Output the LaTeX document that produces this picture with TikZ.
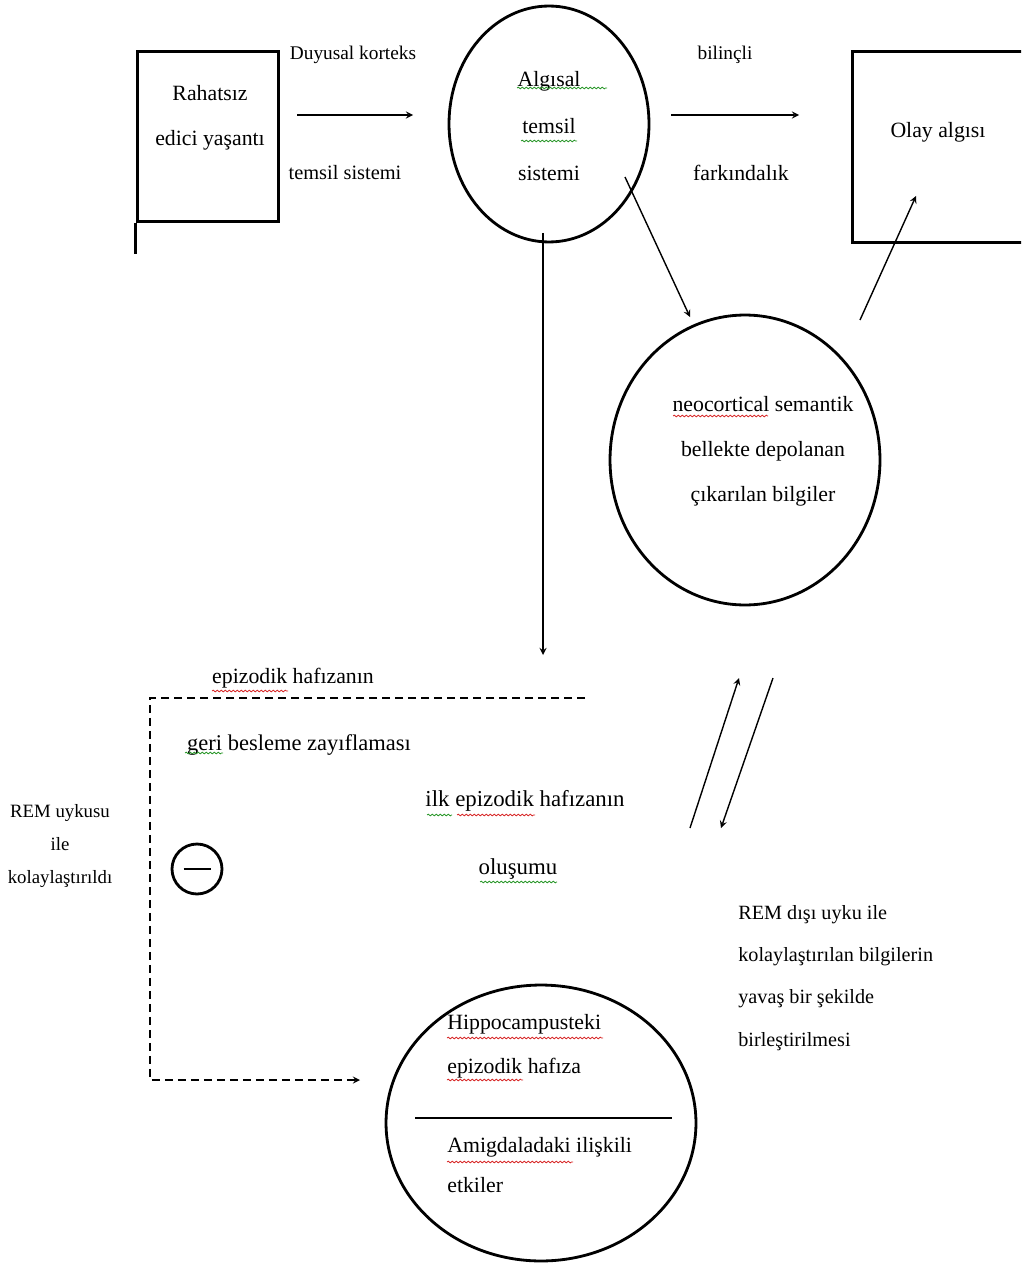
\documentclass[tikz,border=0pt]{standalone}
\usepackage{fontspec}
\setmainfont{Liberation Serif}
\usetikzlibrary{shapes.geometric,decorations.pathmorphing}
\definecolor{spellred}{RGB}{215,40,40}
\definecolor{spellgreen}{RGB}{40,150,40}
\tikzset{
  box/.style={draw, line width=1.7pt, inner sep=0},
  oval/.style={draw, ellipse, line width=1.6pt, inner sep=0},
  txt/.style={inner sep=0, align=center, font=\fontsize{12.4}{25.6}\selectfont},
  lbl/.style={inner sep=0, align=center, font=\fontsize{11}{20}\selectfont},
  arr/.style={-stealth, line width=0.8pt},
  fb/.style={-stealth, line width=0.8pt, dash pattern=on 0.16cm off 0.1cm},
  sq/.style={line width=0.45pt, decorate, decoration={snake, segment length=0.08cm, amplitude=0.5pt}}
}
\begin{document}
\begin{tikzpicture}[x=0.02cm, y=-0.02cm]
\useasboundingbox (0,0) rectangle (1021,1284);
\clip (0,0) rectangle (1021,1284);
% kutular
\node[box, minimum width=2.84cm, minimum height=3.42cm] (rahat) at (208,136.5) {};
\node[txt] (rahattxt) at (210,118) {Rahatsız\\edici yaşantı};
\draw[line width=1.2pt] (rahat.south west) -- ++(0,31);
\node[box, minimum width=3.6cm, minimum height=3.84cm] (olay) at (942,147) {};
\node[txt] (olaytxt) at (938,132) {Olay algısı};
% daireler
\node[oval, minimum width=4cm, minimum height=4.72cm] (alg) at (549,124) {};
\node[txt, font=\fontsize{12.4}{26.5}\selectfont] (algtxt) at (549,126) {Algısal\\temsil\\sistemi};
\node[oval, minimum width=5.4cm, minimum height=5.8cm] (neo) at (745,460) {};
\node[txt] (neotxt) at (763,451) {neocortical semantik\\bellekte depolanan\\çıkarılan bilgiler};
\node[oval, minimum width=6.2cm, minimum height=5.52cm] (hippo) at (541,1123) {};
\draw[line width=0.8pt] (415,1118) -- (672,1118);
\node[txt, align=left, anchor=west, font=\fontsize{12.4}{25}\selectfont] (hiptxt) at (447,1046) {Hippocampusteki\\epizodik hafıza};
\node[txt, align=left, anchor=west, font=\fontsize{12.4}{22.8}\selectfont] (amitxt) at (447,1165) {Amigdaladaki ilişkili\\etkiler};
\node[draw, circle, line width=1.6pt, minimum size=1cm, inner sep=0] (neg) at (197,869) {};
\draw[line width=1pt] ([xshift=-0.27cm]neg.center) -- ([xshift=0.27cm]neg.center);
% etiketler
\node[lbl] (duy) at (353,55) {Duyusal korteks};
\node[lbl, font=\fontsize{11.6}{20}\selectfont] (tem) at (345,173) {temsil sistemi};
\node[lbl] (bil) at (725,55) {bilinçli};
\node[txt] (far) at (741,173) {farkındalık};
\node[txt] (epi) at (293,678) {epizodik hafızanın};
\node[txt, font=\fontsize{12.8}{20}\selectfont] (geri) at (299,745) {geri besleme zayıflaması};
\node[lbl, font=\fontsize{10.7}{19}\selectfont] (remu) at (60,846) {REM uykusu\\ile\\kolaylaştırıldı};
\node[txt, font=\fontsize{13}{20}\selectfont] (ilk) at (525,801) {ilk epizodik hafızanın};
\node[txt, font=\fontsize{13}{20}\selectfont] (olus) at (518,869) {oluşumu};
\node[lbl, align=left, anchor=west, font=\fontsize{11.5}{24}\selectfont] (remd) at (738,978) {REM dışı uyku ile\\kolaylaştırılan bilgilerin\\yavaş bir şekilde\\birleştirilmesi};
% yazim denetimi cizgileri
\draw[sq, spellgreen] (517,88) -- (607,88);
\draw[sq, spellgreen] (521,141) -- (577,141);
\draw[sq, spellred] (673,416) -- (768,416);
\draw[sq, spellred] (212,691) -- (288,691);
\draw[sq, spellgreen] (185,753) -- (223,753);
\draw[sq, spellgreen] (427,815) -- (452,815);
\draw[sq, spellred] (457,815) -- (535,815);
\draw[sq, spellgreen] (480,882) -- (557,882);
\draw[sq, spellred] (447,1038) -- (603,1038);
\draw[sq, spellred] (447,1080) -- (523,1080);
\draw[sq, spellred] (447,1162) -- (573,1162);
% oklar
\coordinate (a1) at (297,115); \coordinate (a2) at (413,115);
\coordinate (b1) at (671,115); \coordinate (b2) at (799,115);
\coordinate (c1) at (543,233); \coordinate (c2) at (543,655);
\coordinate (d1) at (625,177); \coordinate (d2) at (690,317);
\coordinate (e1) at (860,320); \coordinate (e2) at (916,196);
\coordinate (f1) at (690,828); \coordinate (f2) at (739,678);
\coordinate (g1) at (773,678); \coordinate (g2) at (721,828);
\coordinate (h1) at (585,698); \coordinate (h2) at (360,1080);
\draw[arr] (a1) -- (a2);
\draw[arr] (b1) -- (b2);
\draw[arr] (c1) -- (c2);
\draw[arr] (d1) -- (d2);
\draw[arr] (e1) -- (e2);
\draw[arr] (f1) -- (f2);
\draw[arr] (g1) -- (g2);
\draw[fb] (h1) -| (150,1080) -- (h2);
\end{tikzpicture}
\end{document}
